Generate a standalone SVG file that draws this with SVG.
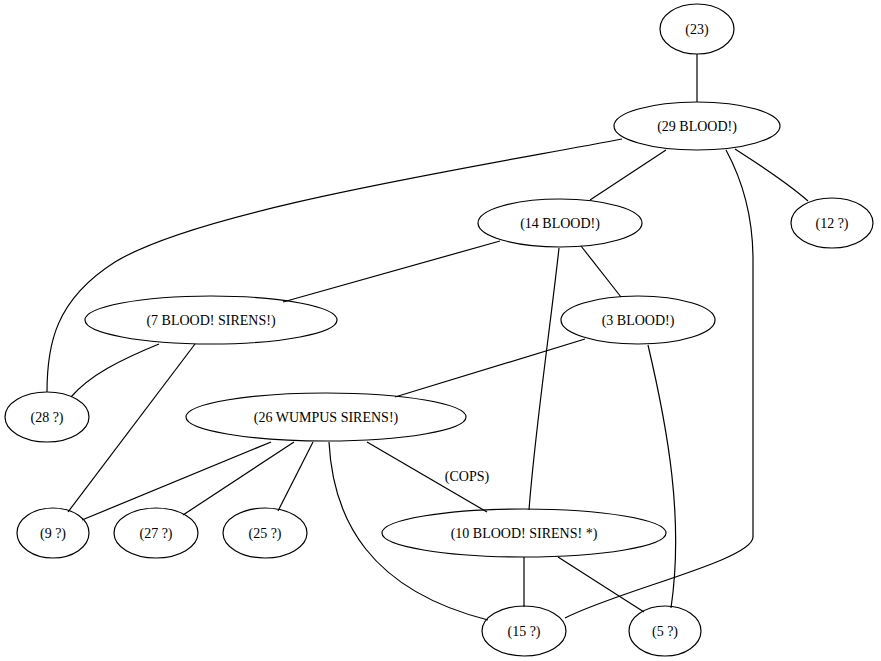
<svg xmlns="http://www.w3.org/2000/svg" width="881" height="661" viewBox="0 0 881 661" font-family="'Liberation Serif', 'Times New Roman', 'DejaVu Serif', serif">
<style>
ellipse{fill:none;stroke:#000;stroke-width:1.2}
path{fill:none;stroke:#000;stroke-width:1.2}
text{font-family:'Liberation Serif','Times New Roman','DejaVu Serif',serif;font-size:14px;text-anchor:middle;fill:#000}
</style>
<rect width="881" height="661" fill="#fff"/>
<g id="edges">
<path d="M697,54 L697,102"/>
<path d="M666,150 L590,200"/>
<path d="M622,139 C470,168 200,210 115,262 C55,300 47,345 47,392"/>
<path d="M735,149 C760,165 790,185 808,201"/>
<path d="M726,150 C745,185 753,220 753,260 L753,537 C753,560 620,590 565,618"/>
<path d="M500,241 L283,302"/>
<path d="M581,246 L621,297"/>
<path d="M559,248 C550,330 535,430 529,510"/>
<path d="M159,344 C120,360 90,375 71,397"/>
<path d="M195,344 L68,512"/>
<path d="M585,339 L395,397"/>
<path d="M648,345 C668,430 684,520 671,608"/>
<path d="M271,442 L82,520"/>
<path d="M294,442 L183,515"/>
<path d="M313,442 L278,511"/>
<path d="M329,442 C333,520 370,590 488,620"/>
<path d="M367,442 L487,512"/>
<path d="M524,557 L524,607"/>
<path d="M558,557 L644,612"/>
<text x="467" y="481">(COPS)</text>
</g>
<g id="n23"><ellipse cx="697" cy="29" rx="37" ry="25"/><text x="697" y="34">(23)</text></g>
<g id="n29"><ellipse cx="697" cy="126" rx="83" ry="24"/><text x="697" y="131">(29 BLOOD!)</text></g>
<g id="n14"><ellipse cx="560" cy="223" rx="82" ry="24"/><text x="560" y="228">(14 BLOOD!)</text></g>
<g id="n12"><ellipse cx="832" cy="223" rx="41" ry="25"/><text x="832" y="228">(12 ?)</text></g>
<g id="n7"><ellipse cx="211" cy="320" rx="126" ry="24"/><text x="211" y="325">(7 BLOOD! SIRENS!)</text></g>
<g id="n3"><ellipse cx="638" cy="320" rx="77" ry="24"/><text x="638" y="325">(3 BLOOD!)</text></g>
<g id="n28"><ellipse cx="47" cy="417" rx="42" ry="25"/><text x="47" y="422">(28 ?)</text></g>
<g id="n26"><ellipse cx="326" cy="417" rx="140" ry="24"/><text x="326" y="422">(26 WUMPUS SIRENS!)</text></g>
<g id="n9"><ellipse cx="53" cy="533" rx="36" ry="25"/><text x="53" y="538">(9 ?)</text></g>
<g id="n27"><ellipse cx="156" cy="533" rx="42" ry="25"/><text x="156" y="538">(27 ?)</text></g>
<g id="n25"><ellipse cx="265" cy="533" rx="42" ry="25"/><text x="265" y="538">(25 ?)</text></g>
<g id="n10"><ellipse cx="524" cy="533" rx="142" ry="24"/><text x="524" y="538">(10 BLOOD! SIRENS! *)</text></g>
<g id="n15"><ellipse cx="524" cy="631" rx="42" ry="25"/><text x="524" y="636">(15 ?)</text></g>
<g id="n5"><ellipse cx="665" cy="631" rx="36" ry="25"/><text x="665" y="636">(5 ?)</text></g>
</svg>
